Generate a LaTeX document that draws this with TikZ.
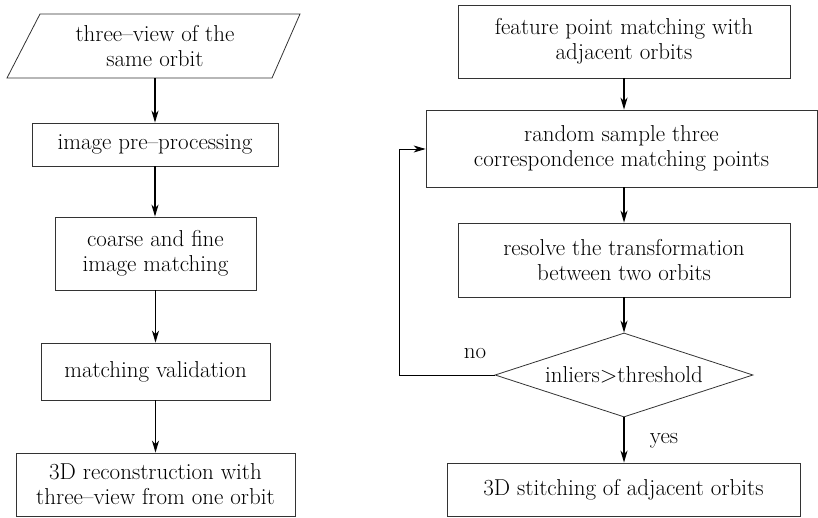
\documentclass[tikz,border=0pt]{standalone}
\usepackage{fontspec}
\usetikzlibrary{shapes.geometric,arrows.meta}
\begin{document}
\begin{tikzpicture}[x=1pt,y=-1pt,
  every node/.style={font=\fontsize{23}{25}\selectfont, align=center, inner sep=0pt},
  box/.style={draw=black!80, line width=0.8pt, rectangle},
  flow/.style={-{Stealth[length=12pt,width=7pt,inset=3.5pt]}, line width=1.6pt},
  back/.style={-{Stealth[length=12pt,width=7pt,inset=3.5pt]}, line width=0.8pt},
  lbl/.style={font=\fontsize{23}{25}\selectfont}]
\useasboundingbox (0,0) rectangle (818,518);
% left column
\draw[draw=black!80, line width=0.8pt] (40,14) -- (300,14) -- (272,78) -- (7,78) -- cycle;
\node (in) at (155,46) {three--view of the\\same orbit};
\coordinate (inb) at (155,78);
\node[box, minimum width=246pt, minimum height=43pt] (pre) at (155,144.5) {image pre--processing};
\node[box, minimum width=201pt, minimum height=73pt] (cf) at (155.5,253.5) {coarse and fine\\image matching};
\node[box, minimum width=229pt, minimum height=57pt] (mv) at (155.5,371.5) {matching validation};
\node[box, minimum width=279pt, minimum height=63pt] (rec) at (155.5,484.5) {3D reconstruction with\\three--view from one orbit};
\draw[flow] (inb) -- (inb |- pre.north);
\draw[flow] (pre.south) -- (pre.south |- cf.north);
\draw[flow] (cf.south) -- (cf.south |- mv.north);
\draw[flow] (mv.south) -- (mv.south |- rec.north);
% right column
\node[box, minimum width=332pt, minimum height=73pt] (fp) at (624,41.5) {feature point matching with\\adjacent orbits};
\node[box, minimum width=391pt, minimum height=77pt] (rs) at (621.5,148.5) {random sample three\\correspondence matching points};
\node[box, minimum width=332pt, minimum height=74pt] (rt) at (624,260) {resolve the transformation\\between two orbits};
\node[draw=black!80, line width=0.8pt, diamond, aspect=3.07, minimum width=258pt, minimum height=84pt] (dec) at (624,375) {inliers>threshold};
\node[box, minimum width=353pt, minimum height=53pt] (st) at (623.5,489.5) {3D stitching of adjacent orbits};
\draw[flow] (fp.south) -- (fp.south |- rs.north);
\draw[flow] (rt.north |- rs.south) -- (rt.north);
\draw[flow] (rt.south) -- (dec.north);
\draw[flow] (dec.south) -- (dec.south |- st.north);
\coordinate (lp) at (399,375);
\coordinate (lt) at (399,149);
\draw[back] (dec.west) -- (lp) -- (lt) -- (rs.west |- lt);
\node[lbl] (no) at (475,354) {no};
\node[lbl] (yes) at (664,441) {yes};
\end{tikzpicture}
\end{document}
